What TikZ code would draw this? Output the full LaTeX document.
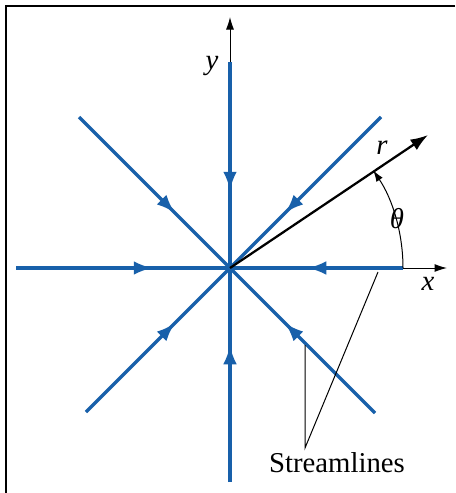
\documentclass[tikz,border=0pt]{standalone}
\usepackage{fontspec}
\setmainfont{Liberation Serif}
\usepackage{xcolor}
\usepackage{tikz}
\usetikzlibrary{arrows.meta, decorations.markings}
\definecolor{flowblue}{RGB}{24, 96, 170}

\begin{document}
\begin{tikzpicture}[x=0.4pt, y=-0.4pt,
		sinkline/.style={flowblue, line width=1.3pt,
			postaction={decorate, decoration={markings,
			mark=at position -31pt with {\arrow{Latex[length=7.5pt, width=5.5pt]}}}}},
		axisline/.style={black, line width=0.4pt, -{Latex[length=5pt, width=3.2pt]}},
		lbl/.style={font=\fontsize{11.5}{13}\selectfont, inner sep=0pt}]
			\useasboundingbox (0,0) rectangle (455,493);

			% frame (top and left edge only)
			\draw[line width=0.8pt] (455,6) -- (6,6) -- (6,493);

			\coordinate (O) at (230,268);
			\coordinate (xend) at (447,268);
			\coordinate (yend) at (230,17);

			% ends of the streamlines
			\coordinate (E) at (403,268);
			\coordinate (W) at (16,268);
			\coordinate (N) at (230,62);
			\coordinate (S) at (230,482);
			\coordinate (NW) at (79,117);
			\coordinate (NE) at (381,117);
			\coordinate (SW) at (86,412);
			\coordinate (SE) at (375,413);

			% axes
			\draw[axisline] (O) -- (xend);
			\draw[axisline] (O) -- (yend);

			% streamlines into the sink
			\foreach \p in {E, W, N, S, NW, NE, SW, SE}
				\draw[sinkline] (\p) -- (O);

			% radius and angle
			\coordinate (rtip) at (428,135);
			\draw[line width=0.9pt, -{Latex[length=7pt, width=5pt]}] (O) -- (rtip);
			\draw[line width=0.4pt, -{Latex[length=4.5pt, width=3pt]}] (E) arc[start angle=0, end angle=33.9, radius=70pt];

			\node[lbl] (ylab) at (212,66) {\textit{y}};
			\node[lbl] (xlab) at (428,284) {\textit{x}};
			\node[lbl] (rlab) at (382,148) {\textit{r}};
			\node[lbl] (thlab) at (397,219) {\textit{θ}};

			% label with leaders
			\node[lbl] (slab) at (337,463) {Streamlines};
			\coordinate (apex) at (305,448);
			\coordinate (s1) at (305,345);
			\coordinate (s2) at (378,272);
			\draw[line width=0.4pt] (s1) -- (apex) -- (s2);
		\end{tikzpicture}
\end{document}
